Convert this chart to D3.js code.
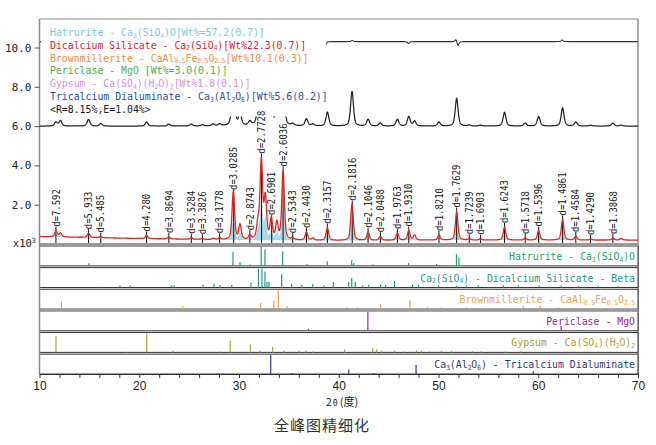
<!DOCTYPE html>
<html lang="zh">
<head>
<meta charset="UTF-8">
<title>全峰图精细化</title>
<style>
  body { margin: 0; background: #fff; }
  svg { display: block; }
</style>
</head>
<body>
<svg width="656" height="445"></svg>
<script src="https://d3js.org/d3.v7.min.js"></script>
<script>
// ---- data ----
// peak positions (2θ) and heights (x10^3 counts above background)
var peakPos = [11.65, 12.1, 14.92, 16.15, 20.74, 22.96, 25.22, 26.33, 27.4, 28.06, 29.43, 30.1, 31.09, 31.9, 32.24, 32.64, 33.23, 33.8, 34.42, 35.39, 36.76, 37.4, 38.86, 41.33, 42.94, 44.17, 45.88, 47.02, 47.6, 50.05, 51.82, 53.09, 54.22, 56.62, 58.69, 60.04, 62.44, 63.77, 65.24, 67.48, 68.3];
var calcH   = [0.3, 0.2, 0.22, 0.06, 0.16, 0.1, 0.08, 0.05, 0.06, 0.1, 2.45, 0.75, 0.22, 0.8, 4.0, 2.1, 1.0, 0.85, 3.5, 0.1, 0.4, 0.1, 0.64, 1.85, 0.42, 0.2, 0.36, 0.48, 0.25, 0.25, 1.45, 0.08, 0.06, 0.66, 0.1, 0.48, 1.05, 0.2, 0.05, 0.1, 0.08];
var obsH    = [0.2, 0.28, 0.34, 0.13, 0.2, 0.1, 0.1, 0.06, 0.1, 0.1, 2.35, 0.6, 0.2, 0.6, 2.95, 2.55, 0.9, 0.8, 2.35, 0.1, 0.36, 0.1, 0.7, 1.75, 0.34, 0.15, 0.34, 0.48, 0.25, 0.2, 1.4, 0.05, 0.05, 0.7, 0.15, 0.48, 0.92, 0.2, 0.05, 0.15, 0.05];
var bgPos = [10, 15, 20, 25, 30, 40, 50, 60, 70];
var bgVal = [0.38, 0.33, 0.28, 0.24, 0.2, 0.18, 0.2, 0.2, 0.2];
var obsBase = 6.0;
var diffBase = 10.3;
var diffPos = [38.7, 41.35, 47.0, 51.75, 51.95, 62.4];
var diffAmp = [-0.12, 0.06, -0.1, 0.12, -0.22, 0.08];

// d-spacing labels (Å)
var dLabels = ["7.592", "5.933", "5.485", "4.280", "3.8694", "3.5284", "3.3826", "3.1778", "3.0285", "2.8743", "2.7728", "2.6901", "2.6036", "2.5343", "2.4430", "2.3157", "2.1816", "2.1046", "2.0488", "1.9763", "1.9310", "1.8210", "1.7629", "1.7239", "1.6903", "1.6243", "1.5718", "1.5396", "1.4861", "1.4584", "1.4290", "1.3868"];

// legend
var legendLines = ["Hatrurite - Ca_3(SiO_4)O[Wt%=57.2(0.7)]",
                   "Dicalcium Silicate - Ca_2(SiO_4)[Wt%22.3(0.7)]",
                   "Brownmillerite - CaAl_{0.5}Fe_{0.5}O_{2.5}[Wt%10.1(0.3)]",
                   "Periclase - MgO [Wt%=3.0(0.1)]",
                   "Gypsum - Ca(SO_4)(H_2O)_2[Wt%1.8(0.1)]",
                   "Tricalcium Dialuminate - Ca_3(Al_2O_6)[Wt%5.6(0.2)]",
                   "<R=8.15%,E=1.04%>"];
var legendColors = ["#7cc8de", "#e3202c", "#f08a3c", "#58a844", "#d890d8", "#2c4c9c", "#222"];

// phase stick panels
var panelLabels = ["Hatrurite - Ca_3(SiO_4)O",
                   "Ca_2(SiO_4) - Dicalcium Silicate - Beta",
                   "Brownmillerite - CaAl_{0.5}Fe_{0.5}O_{2.5}",
                   "Periclase - MgO",
                   "Gypsum - Ca(SO_4)(H_2O)_2",
                   "Ca_3(Al_2O_6) - Tricalcium Dialuminate"];
var panelColors = ["#22a065", "#1f9a8c", "#f0a050", "#8e2a9a", "#a8a040", "#303a80"];

var hatPos = [14.95, 16.2, 22.9, 25.3, 27.4, 28.0, 29.4, 30.1, 31.1, 32.22, 32.6, 34.38, 36.8, 38.85, 41.3, 41.5, 43.4, 47.0, 49.8, 51.8, 52.05];
var hatH   = [0.14, 0.05, 0.05, 0.05, 0.04, 0.05, 0.75, 0.2, 0.08, 1.0, 0.88, 0.78, 0.1, 0.25, 0.3, 0.15, 0.08, 0.15, 0.1, 0.62, 0.45];
var c2sPos = [16.2, 18.07, 19.07, 23.25, 23.5, 26.4, 27.5, 28.1, 29.27, 31.2, 31.95, 32.3, 32.6, 32.8, 33.0, 34.28, 35.28, 36.3, 37.4, 38.5, 39.45, 41.0, 41.3, 41.66, 42.4, 43.0, 44.2, 44.7, 45.6, 47.4, 48.0, 50.0, 51.8, 52.8, 54.0, 56.5, 58.0, 60.1, 62.3, 64.0, 66.0, 68.0];
var c2sH   = [0.05, 0.1, 0.1, 0.1, 0.1, 0.15, 0.2, 0.15, 0.15, 0.25, 1.0, 1.0, 0.85, 0.3, 0.3, 0.7, 0.2, 0.15, 0.2, 0.1, 0.3, 0.3, 0.5, 0.3, 0.1, 0.15, 0.15, 0.15, 0.35, 0.15, 0.15, 0.1, 0.1, 0.1, 0.1, 0.12, 0.1, 0.1, 0.12, 0.08, 0.08, 0.08];
var brmPos = [12.2, 24.36, 32.18, 33.5, 33.94, 34.84, 40.8, 41.9, 44.2, 47.14, 48.9, 50.3, 52.8, 58.5, 60.2, 62.0];
var brmH   = [0.42, 0.15, 0.32, 0.45, 1.0, 0.15, 0.1, 0.1, 0.26, 0.47, 0.12, 0.1, 0.1, 0.15, 0.2, 0.1];
var perPos = [36.95, 42.92, 62.3];
var perH   = [0.1, 1.0, 0.25];
var gypPos = [11.65, 18.7, 20.75, 23.4, 28.15, 29.12, 31.14, 32.1, 33.37, 34.5, 36.0, 36.7, 37.4, 40.6, 43.4, 43.8, 44.3, 45.6, 46.5, 47.8, 48.3, 49.1, 50.3, 51.3, 53.4, 54.3, 56.7, 58.2];
var gypH   = [0.85, 0.03, 1.0, 0.1, 0.05, 0.62, 0.42, 0.1, 0.3, 0.1, 0.1, 0.1, 0.05, 0.15, 0.2, 0.15, 0.1, 0.1, 0.05, 0.1, 0.1, 0.05, 0.08, 0.08, 0.06, 0.06, 0.05, 0.05];
var c3aPos = [28.0, 33.18, 35.3, 41.0, 43.5, 47.75, 59.5];
var c3aH   = [0.03, 1.0, 0.05, 0.24, 0.05, 0.47, 0.15];

var xTicks = d3.range(10, 71, 2);
var xLabels = [10, 20, 30, 40, 50, 60, 70];
var yTicks = [2, 4, 6, 8, 10];

var LAMBDA = 1.5406; // Cu Ka1

// ---- setup ----
var svg = d3.select("svg");
var plot = {left: 39.5, right: 638, top: 19, bottom: 244};
var axisY = 374;

var x = d3.scaleLinear().domain([10, 70]).range([plot.left, plot.right]);
var y = d3.scaleLinear().domain([0, 11.45]).range([plot.bottom, plot.top]);
var bg = d3.scaleLinear().domain(bgPos).range(bgVal);

// pseudo-Voigt peak sum
function pv(t, pos, hts, w) {
    var s = 0, hw = w / 2;
    for (var i = 0; i < pos.length; i++) {
        var u = (t - pos[i]) / hw;
        if (Math.abs(u) > 60) continue;
        s += hts[i] * (0.5 / (1 + u * u) + 0.5 * Math.exp(-0.6931 * u * u));
    }
    return s;
}
function calcAt(t) { return bg(t) + pv(t, peakPos, calcH, 0.3); }

var grid = d3.range(10, 70.0001, 0.02);
var calcData = grid.map(function(t) { return [t, calcAt(t)]; });
var obsData = grid.map(function(t) { return [t, obsBase + pv(t, peakPos, obsH, 0.34)]; });
var diffData = grid.map(function(t) { return [t, diffBase + pv(t, diffPos, diffAmp, 0.22)]; });

var line = d3.line().x(function(d) { return x(d[0]); }).y(function(d) { return y(d[1]); });

svg.append("defs").append("clipPath").attr("id", "clipMain")
    .append("rect").attr("x", plot.left).attr("y", plot.top)
    .attr("width", plot.right - plot.left).attr("height", plot.bottom - plot.top);

// text with _sub markup
function rich(sel, s, subSize) {
    var parts = [], buf = "", i = 0;
    while (i < s.length) {
        if (s[i] === "_") {
            if (buf) { parts.push({t: buf, sub: false}); buf = ""; }
            if (s[i + 1] === "{") {
                var j = s.indexOf("}", i);
                parts.push({t: s.slice(i + 2, j), sub: true});
                i = j + 1;
            } else {
                parts.push({t: s[i + 1], sub: true});
                i += 2;
            }
        } else { buf += s[i]; i++; }
    }
    if (buf) parts.push({t: buf, sub: false});
    var down = false;
    parts.forEach(function(p) {
        var ts = sel.append("tspan").text(p.t);
        if (p.sub) {
            ts.attr("font-size", subSize);
            if (!down) { ts.attr("dy", 1.5); down = true; }
        } else if (down) { ts.attr("dy", -1.5); down = false; }
    });
}

var mono = "'DejaVu Sans Mono', 'Liberation Mono', monospace";

// ---- main plot ----
var main = svg.append("g").attr("clip-path", "url(#clipMain)");

// difference curve (partly hidden by legend box)
main.append("path").attr("d", line(diffData))
    .attr("fill", "none").attr("stroke", "#333").attr("stroke-width", 1.1);

// legend box
svg.append("rect").attr("x", 41).attr("y", 20.5).attr("width", 285).attr("height", 96).attr("fill", "#fff");
legendLines.forEach(function(s, i) {
    var t = svg.append("g")
        .attr("transform", "translate(50," + (36 + i * 12.8) + ") scale(0.88,1)")
        .append("text").attr("font-family", mono).attr("font-size", 11.2)
        .attr("fill", legendColors[i]);
    rich(t, s, 7);
});

// observed curve (upper)
main.append("path").attr("d", line(obsData))
    .attr("fill", "none").attr("stroke", "#222").attr("stroke-width", 1.25);

// light fill under calculated peaks
var area = d3.area().x(function(d) { return x(d[0]); })
    .y0(function(d) { return y(bg(d[0])); })
    .y1(function(d) { return y(bg(d[0]) + 0.5 * (d[1] - bg(d[0]))); });
main.append("path").attr("d", area(calcData)).attr("fill", "#a6d8e8");

// d-spacing marker lines and labels
var dData = dLabels.map(function(d) {
    var tt = 2 * Math.asin(LAMBDA / (2 * (+d))) * 180 / Math.PI;
    return {d: d, tt: tt, top: y(calcAt(tt)) - 4};
});
main.selectAll(".dline").data(dData).enter().append("line")
    .attr("x1", function(d) { return x(d.tt); }).attr("x2", function(d) { return x(d.tt); })
    .attr("y1", function(d) { return d.top; }).attr("y2", plot.bottom)
    .attr("stroke", "#111").attr("stroke-width", 1);

// calculated curve
main.append("path").attr("d", line(calcData))
    .attr("fill", "none").attr("stroke", "#e02424").attr("stroke-width", 1.3);

svg.selectAll(".dlab").data(dData).enter().append("g")
    .attr("transform", function(d) { return "translate(" + x(d.tt) + "," + d.top + ") rotate(-90) scale(0.85,1)"; })
    .append("text").attr("font-family", mono).attr("font-size", 10.5)
    .attr("dy", "0.35em").attr("fill", "#222")
    .text(function(d) { return "d=" + d.d; });

// frame of main plot
svg.append("line").attr("x1", plot.left).attr("x2", plot.right).attr("y1", plot.top).attr("y2", plot.top)
    .attr("stroke", "#888").attr("stroke-width", 1);
svg.append("line").attr("x1", plot.right).attr("x2", plot.right).attr("y1", plot.top).attr("y2", axisY)
    .attr("stroke", "#555").attr("stroke-width", 1);

// ---- stick panels ----
var stickPos = [hatPos, c2sPos, brmPos, perPos, gypPos, c3aPos];
var stickH = [hatH, c2sH, brmH, perH, gypH, c3aH];
var band = d3.scaleBand().domain(d3.range(6)).range([246, axisY]).paddingInner(0.08);

d3.range(6).forEach(function(k) {
    var top = band(k), bot = top + band.bandwidth();
    var g = svg.append("g");
    var ys = d3.scaleLinear().domain([0, 1]).range([bot, top + 1]);
    g.append("rect").attr("x", plot.left).attr("y", top)
        .attr("width", plot.right - plot.left).attr("height", bot - top)
        .attr("fill", "#fff").attr("stroke", "#333").attr("stroke-width", 1);
    g.selectAll("line.stick").data(stickPos[k]).enter().append("line")
        .attr("x1", function(d) { return x(d); }).attr("x2", function(d) { return x(d); })
        .attr("y1", bot).attr("y2", function(d, i) { return ys(stickH[k][i]); })
        .attr("stroke", panelColors[k]).attr("stroke-width", 1.2);
    var t = g.append("g")
        .attr("transform", "translate(635," + (top + 14) + ") scale(0.88,1)")
        .append("text").attr("font-family", mono).attr("font-size", 11.2)
        .attr("text-anchor", "end").attr("fill", panelColors[k]);
    rich(t, panelLabels[k], 7);
});

// gray bands
svg.append("rect").attr("x", plot.left).attr("y", 243).attr("width", plot.right - plot.left)
    .attr("height", band(0) - 243 + 0.5).attr("fill", "#9a9a9a");
svg.append("rect").attr("x", plot.left).attr("y", band(2) + band.bandwidth() - 0.5)
    .attr("width", plot.right - plot.left)
    .attr("height", band(3) - band(2) - band.bandwidth() + 1).attr("fill", "#9a9a9a");

// left axis line
svg.append("line").attr("x1", plot.left).attr("x2", plot.left).attr("y1", plot.top).attr("y2", axisY)
    .attr("stroke", "#888").attr("stroke-width", 1.5);

// ---- axes ----
var yAxis = svg.append("g").attr("transform", "translate(" + plot.left + ",0)")
    .call(d3.axisLeft(y).tickValues(yTicks).tickSize(5).tickSizeOuter(0).tickFormat(d3.format(".1f")));
yAxis.select(".domain").remove();
yAxis.selectAll("line").attr("stroke", "#555");
yAxis.selectAll("text").attr("font-family", mono).attr("font-size", 11).attr("fill", "#222");

var xt = svg.append("text").attr("x", 36).attr("y", 247).attr("text-anchor", "end")
    .attr("font-family", mono).attr("font-size", 10.5).attr("fill", "#222");
xt.append("tspan").text("x10");
xt.append("tspan").text("3").attr("font-size", 7).attr("dy", -4);

var xAxis = svg.append("g").attr("transform", "translate(0," + axisY + ")")
    .call(d3.axisBottom(x).tickValues(xTicks).tickSize(4).tickSizeOuter(0)
        .tickFormat(function(d) { return xLabels.indexOf(d) >= 0 ? d : ""; }));
xAxis.select(".domain").attr("stroke", "#333");
xAxis.selectAll("line").attr("stroke", "#333");
xAxis.selectAll("text").attr("font-family", "'Liberation Sans', Arial, sans-serif")
    .attr("font-size", 12).attr("fill", "#222");

var xl = svg.append("text").attr("x", 342).attr("y", 406).attr("text-anchor", "middle")
    .attr("font-family", "'Noto Sans CJK SC', sans-serif").attr("font-size", 11).attr("fill", "#222");
xl.append("tspan").text("2");
xl.append("tspan").text("θ").attr("font-size", 8.5).attr("dx", 1);
xl.append("tspan").text("(度)").attr("dx", 2);

svg.append("text").attr("x", 322).attr("y", 431).attr("text-anchor", "middle")
    .attr("font-family", "'Noto Sans CJK SC', sans-serif").attr("font-size", 15)
    .attr("fill", "#333").attr("letter-spacing", 1)
    .text("全峰图精细化");
</script>
</body>
</html>
